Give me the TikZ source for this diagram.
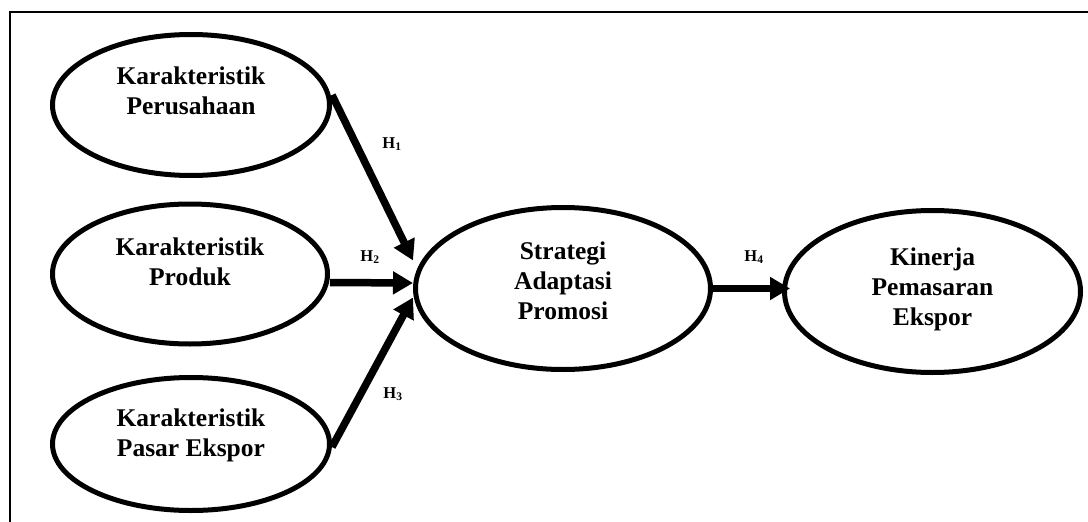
\documentclass[tikz,border=0pt]{standalone}
\usepackage{fontspec}
\setmainfont{Liberation Serif}
\usetikzlibrary{shapes.geometric,arrows.meta}
\begin{document}
\begin{tikzpicture}[x=1pt,y=-1pt,
  construct/.style={ellipse, draw, line width=5pt, inner sep=0pt},
  ctext/.style={align=center, inner sep=0pt,
    font=\fontsize{25.5}{30}\selectfont\bfseries},
  hyp/.style={line width=7.5pt, -{Triangle[length=20pt,width=22pt]}},
  hlabel/.style={inner sep=0pt, font=\fontsize{16.5}{19}\selectfont\bfseries}]
  \useasboundingbox (0,0) rectangle (1088,522);
  \clip (0,0) rectangle (1088,522);
  % outer frame
  \draw[line width=2pt] (10,12) rectangle (1120,560);

  % constructs
  \node[construct, minimum width=277pt, minimum height=141pt] (perusahaan) at (191,105) {};
  \node[construct, minimum width=275pt, minimum height=140pt] (produk) at (190,274) {};
  \node[construct, minimum width=277pt, minimum height=133pt] (pasar) at (191,444) {};
  \node[construct, minimum width=295pt, minimum height=162pt] (strategi) at (563,288.5) {};
  \node[construct, minimum width=296pt, minimum height=162pt] (kinerja) at (932.5,291.5) {};

  \node[ctext] (tperusahaan) at (191,91) {Karakteristik\\Perusahaan};
  \node[ctext] (tproduk) at (190,262) {Karakteristik\\Produk};
  \node[ctext] (tpasar) at (191,435.5) {Karakteristik\\Pasar Ekspor};
  \node[ctext] (tstrategi) at (563,281) {Strategi\\Adaptasi\\Promosi};
  \node[ctext] (tkinerja) at (932.5,289) {Kinerja\\Pemasaran\\Ekspor};

  % hypotheses
  \draw[hyp] ([yshift=10pt]perusahaan.east) -- ([yshift=28pt]strategi.west);
  \draw[hyp] ([yshift=-8.5pt]produk.east) -- ([yshift=5.5pt]strategi.west);
  \draw[hyp] ([yshift=-3pt]pasar.east) -- ([yshift=-9pt]strategi.west);
  \draw[hyp] ([xshift=-3pt]strategi.east) -- ([xshift=8pt]strategi.east -| kinerja.west);

  \node[hlabel] (h1) at (392,144) {H\textsubscript{1}};
  \node[hlabel] (h2) at (370,257) {H\textsubscript{2}};
  \node[hlabel] (h3) at (393,394) {H\textsubscript{3}};
  \node[hlabel] (h4) at (754,257) {H\textsubscript{4}};
\end{tikzpicture}
\end{document}
